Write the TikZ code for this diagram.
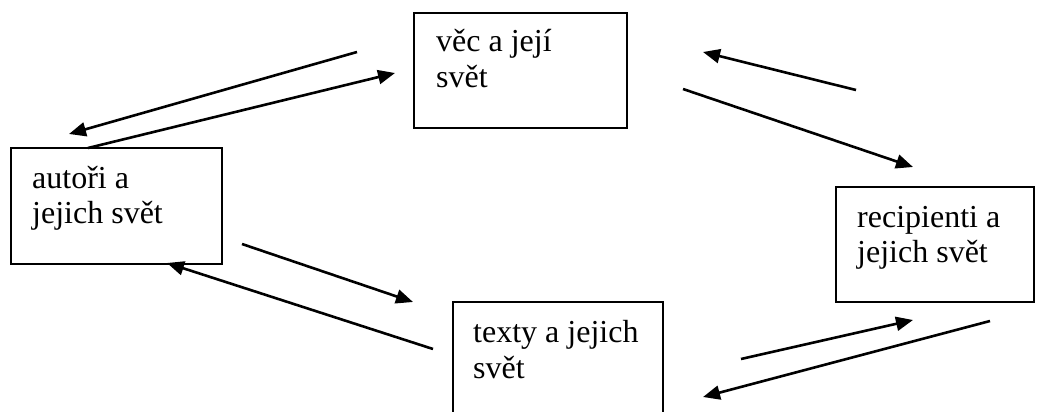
\documentclass[tikz,border=0pt]{standalone}
\usepackage{fontspec}
\setmainfont{Liberation Serif}
\usetikzlibrary{arrows.meta}
\begin{document}
\begin{tikzpicture}[x=1pt,y=-1pt,
  box/.style={draw=black,line width=2.3pt,rectangle,inner sep=0pt,outer sep=0pt,anchor=north west},
  lbl/.style={anchor=base west,inner sep=0pt,font=\fontsize{32}{36}\selectfont},
  conn/.style={line width=2.6pt,-{Triangle[length=17pt,width=14pt]}}]
\useasboundingbox (0,0) rectangle (1037,412);
\clip (0,0) rectangle (1037,412);
% boxes
\node[box,minimum width=213pt,minimum height=115pt] (vec) at (414,13) {};
\node[box,minimum width=211pt,minimum height=116pt] (aut) at (11,148) {};
\node[box,minimum width=198pt,minimum height=115pt] (rec) at (836,187) {};
\node[box,minimum width=210pt,minimum height=130pt] (tex) at (453,302) {};
% labels
\node[lbl] (vec1) at (436,52) {věc a její};
\node[lbl] (vec2) at (436,88) {svět};
\node[lbl] (aut1) at (32,188) {autoři a};
\node[lbl] (aut2) at (32,223) {jejich svět};
\node[lbl] (rec1) at (857,227) {recipienti a};
\node[lbl] (rec2) at (857,262) {jejich svět};
\node[lbl] (tex1) at (473,342) {texty a jejich};
\node[lbl] (tex2) at (473,378) {svět};
% connector ends
\coordinate (a1s) at (357,52);  \coordinate (a1e) at (69,134);
\coordinate (a2s) at (88,148);  \coordinate (a2e) at (395,73);
\coordinate (a3s) at (856,90);  \coordinate (a3e) at (703,52);
\coordinate (a4s) at (683,89);  \coordinate (a4e) at (913,167);
\coordinate (a5s) at (242,244); \coordinate (a5e) at (413,302);
\coordinate (a6s) at (433,349); \coordinate (a6e) at (167,263);
\coordinate (a7s) at (741,359); \coordinate (a7e) at (913,320);
\coordinate (a8s) at (990,321); \coordinate (a8e) at (703,397);
\draw[conn] (a1s) -- (a1e);
\draw[conn] (a2s) -- (a2e);
\draw[conn] (a3s) -- (a3e);
\draw[conn] (a4s) -- (a4e);
\draw[conn] (a5s) -- (a5e);
\draw[conn] (a6s) -- (a6e);
\draw[conn] (a7s) -- (a7e);
\draw[conn] (a8s) -- (a8e);
\end{tikzpicture}
\end{document}
